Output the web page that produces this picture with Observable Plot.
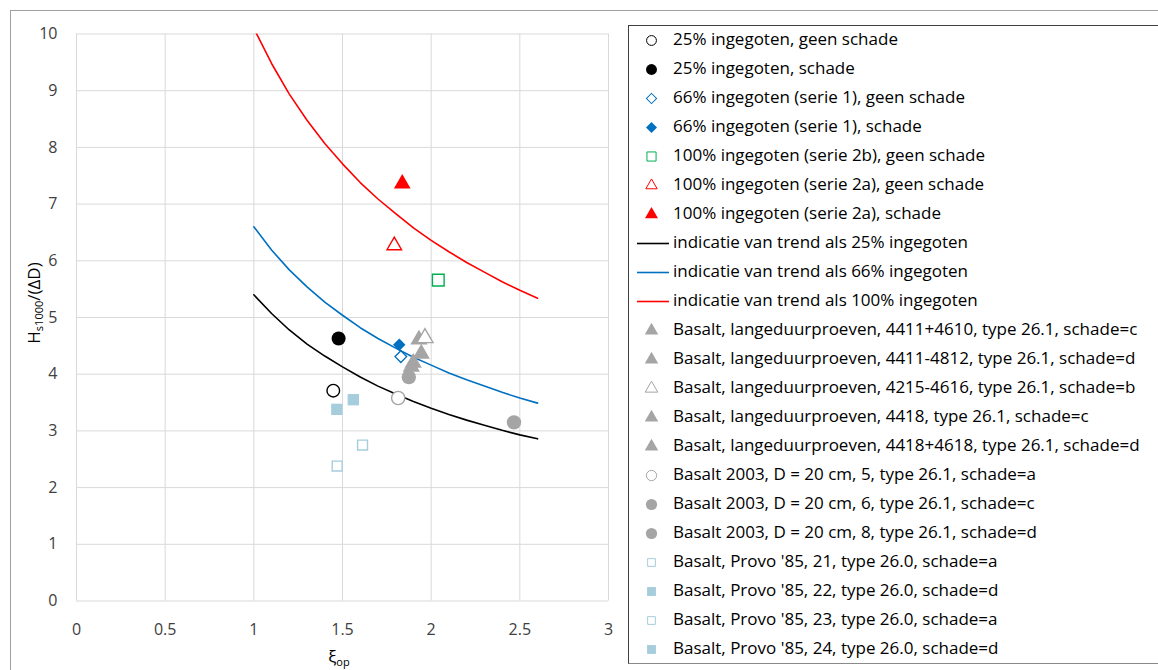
<!DOCTYPE html>
<html>
<head>
<meta charset="utf-8">
<script src="https://cdn.jsdelivr.net/npm/d3@7"></script>
<script src="https://cdn.jsdelivr.net/npm/@observablehq/plot@0.6"></script>
<style>
  html, body { margin: 0; padding: 0; background: #fff; }
  body { width: 1158px; height: 670px; position: relative; overflow: hidden; font-family: "Open Sans", "Liberation Sans", sans-serif; }
  #frame { position: absolute; left: 10px; top: 10px; width: 1200px; height: 700px; border: 1px solid #a0a0a0; box-sizing: border-box; }
  #chart { position: absolute; left: 0; top: 0; }
  #ylab { position: absolute; left: 33px; top: 303px; transform: translate(-50%, -50%) rotate(-90deg); font-size: 17px; color: #000; white-space: nowrap; }
  #xlab { position: absolute; left: 339px; top: 656px; transform: translate(-50%, -50%); font-size: 17px; color: #000; white-space: nowrap; }
  sub { font-size: 11px; vertical-align: -3px; line-height: 0; }
  #legend { position: absolute; left: 628px; top: 25px; width: 560px; height: 639px; border: 1px solid #404040; border-bottom-color: #8a8a8a; box-sizing: border-box; }
  .item { position: absolute; left: 0; height: 29px; font-size: 17px; color: #000; white-space: nowrap; }
  .item svg { position: absolute; left: 0; top: 0; }
  .item span { position: absolute; left: 44px; top: 50%; transform: translateY(-52%); }
</style>
</head>
<body>
<div id="frame"></div>
<div id="chart"></div>
<div id="ylab">H<sub>s1000</sub>/(ΔD)</div>
<div id="xlab">ξ<sub>op</sub></div>
<div id="legend"></div>
<script>
// ---- tick values ----
const xTicks = [0, 0.5, 1, 1.5, 2, 2.5, 3];
const yTicks = [0, 1, 2, 3, 4, 5, 6, 7, 8, 9, 10];

// ---- point series [xi_op, Hs/(ΔD)] ----
const p25Geen = [[1.448, 3.71]];
const p25Schade = [[1.478, 4.63]];
const p66Geen = [[1.829, 4.31]];
const p66Schade = [[1.820, 4.52]];
const p100bGeen = [[2.040, 5.66]];
const p100aGeen = [[1.792, 6.27]];
const p100aSchade = [[1.837, 7.36]];
const lang4411_4610 = [[1.931, 4.61]];
const lang4411_4812 = [[1.944, 4.36]];
const lang4215_4616 = [[1.965, 4.64]];
const lang4418 = [[1.899, 4.20]];
const lang4418_4618 = [[1.888, 4.13]];
const b2003_5 = [[1.814, 3.58]];
const b2003_6 = [[1.874, 3.95]];
const b2003_8 = [[2.467, 3.15]];
const provo21 = [[1.470, 2.38]];
const provo22 = [[1.468, 3.38]];
const provo23 = [[1.613, 2.75]];
const provo24 = [[1.561, 3.55]];

// ---- trend lines ----
const trendX = [1.0, 1.1, 1.2, 1.3, 1.4, 1.5, 1.6, 1.7, 1.8, 1.9, 2.0, 2.1, 2.2, 2.3, 2.4, 2.5, 2.6];
const trend25 = [5.40, 5.07, 4.78, 4.53, 4.32, 4.13, 3.95, 3.79, 3.65, 3.52, 3.40, 3.29, 3.19, 3.10, 3.01, 2.93, 2.86];
const trend66 = [6.60, 6.19, 5.84, 5.54, 5.27, 5.04, 4.82, 4.63, 4.46, 4.30, 4.16, 4.02, 3.90, 3.79, 3.68, 3.58, 3.49];
const trend100 = [10.10, 9.48, 8.94, 8.48, 8.07, 7.71, 7.38, 7.09, 6.83, 6.58, 6.36, 6.16, 5.97, 5.80, 5.63, 5.48, 5.34];

// ---- legend labels ----
const labels = [
  "25% ingegoten, geen schade",
  "25% ingegoten, schade",
  "66% ingegoten (serie 1), geen schade",
  "66% ingegoten (serie 1), schade",
  "100% ingegoten (serie 2b), geen schade",
  "100% ingegoten (serie 2a), geen schade",
  "100% ingegoten (serie 2a), schade",
  "indicatie van trend als 25% ingegoten",
  "indicatie van trend als 66% ingegoten",
  "indicatie van trend als 100% ingegoten",
  "Basalt, langeduurproeven, 4411+4610, type 26.1, schade=c",
  "Basalt, langeduurproeven, 4411-4812, type 26.1, schade=d",
  "Basalt, langeduurproeven, 4215-4616, type 26.1, schade=b",
  "Basalt, langeduurproeven, 4418, type 26.1, schade=c",
  "Basalt, langeduurproeven, 4418+4618, type 26.1, schade=d",
  "Basalt 2003, D = 20 cm, 5, type 26.1, schade=a",
  "Basalt 2003, D = 20 cm, 6, type 26.1, schade=c",
  "Basalt 2003, D = 20 cm, 8, type 26.1, schade=d",
  "Basalt, Provo '85, 21, type 26.0, schade=a",
  "Basalt, Provo '85, 22, type 26.0, schade=d",
  "Basalt, Provo '85, 23, type 26.0, schade=a",
  "Basalt, Provo '85, 24, type 26.0, schade=d"
];

// ---- styles ----
const BLACK = "#000000", BLUE = "#0070c0", GREEN = "#00b050", RED = "#ff0000", GRAY = "#a5a5a5", LBLUE = "#a5cddc";

const lines = [
  {label: labels[7], values: trend25, color: BLACK},
  {label: labels[8], values: trend66, color: BLUE},
  {label: labels[9], values: trend100, color: RED}
];

const series = [
  {label: labels[0], data: p25Geen, symbol: "circle", fill: "white", stroke: BLACK, r: 6.3},
  {label: labels[1], data: p25Schade, symbol: "circle", fill: BLACK, stroke: "none", r: 7},
  {label: labels[2], data: p66Geen, symbol: "diamond2", fill: "white", stroke: BLUE, r: 5.2},
  {label: labels[3], data: p66Schade, symbol: "diamond2", fill: BLUE, stroke: "none", r: 5.6},
  {label: labels[4], data: p100bGeen, symbol: "square", fill: "white", stroke: GREEN, r: 6.6},
  {label: labels[5], data: p100aGeen, symbol: "triangle", fill: "white", stroke: RED, r: 5.4},
  {label: labels[6], data: p100aSchade, symbol: "triangle", fill: RED, stroke: "none", r: 6.2},
  {label: labels[10], data: lang4411_4610, symbol: "triangle", fill: GRAY, stroke: "none", r: 6.4},
  {label: labels[11], data: lang4411_4812, symbol: "triangle", fill: GRAY, stroke: "none", r: 6.4},
  {label: labels[12], data: lang4215_4616, symbol: "triangle", fill: "white", stroke: GRAY, r: 6.0},
  {label: labels[13], data: lang4418, symbol: "triangle", fill: GRAY, stroke: "none", r: 6.4},
  {label: labels[14], data: lang4418_4618, symbol: "triangle", fill: GRAY, stroke: "none", r: 6.4},
  {label: labels[15], data: b2003_5, symbol: "circle", fill: "white", stroke: GRAY, r: 6.6},
  {label: labels[16], data: b2003_6, symbol: "circle", fill: GRAY, stroke: "none", r: 7.2},
  {label: labels[17], data: b2003_8, symbol: "circle", fill: GRAY, stroke: "none", r: 7.2},
  {label: labels[18], data: provo21, symbol: "square", fill: "white", stroke: LBLUE, r: 5.6},
  {label: labels[19], data: provo22, symbol: "square", fill: LBLUE, stroke: "none", r: 6.4},
  {label: labels[20], data: provo23, symbol: "square", fill: "white", stroke: LBLUE, r: 5.6},
  {label: labels[21], data: provo24, symbol: "square", fill: LBLUE, stroke: "none", r: 6.4}
];

// draw order: lines first, then markers in the reference's series order
const marks = [
  Plot.gridX(xTicks, {stroke: "#d9d9d9", strokeOpacity: 1, strokeWidth: 1}),
  Plot.gridY(yTicks, {stroke: "#d9d9d9", strokeOpacity: 1, strokeWidth: 1}),
  Plot.axisX(xTicks, {tickSize: 0, tickPadding: 23, tickFormat: d => String(d), fontSize: 16, fill: "#404040", label: null}),
  Plot.axisY(yTicks, {tickSize: 0, tickPadding: 19, tickFormat: d => String(d), fontSize: 16, fill: "#404040", label: null}),
  ...lines.map(l => Plot.line(trendX.map((x, i) => [x, l.values[i]]), {x: d => d[0], y: d => d[1], stroke: l.color, strokeWidth: 1.6, clip: true})),
  ...series.map(s => Plot.dot(s.data, {x: d => d[0], y: d => d[1], symbol: () => s.symbol, fill: s.fill, stroke: s.stroke, strokeWidth: 1.4, r: s.r}))
];

const chart = Plot.plot({
  width: 620,
  height: 670,
  marginLeft: 76,
  marginRight: 12,
  marginTop: 33.5,
  marginBottom: 69.5,
  style: {fontFamily: "'Open Sans', 'Liberation Sans', sans-serif", background: "transparent", overflow: "visible"},
  x: {domain: [0, 3]},
  y: {domain: [0, 10]},
  symbol: {type: "identity"},
  marks
});
document.getElementById("chart").appendChild(chart);

// ---- legend ----
const legend = document.getElementById("legend");
const symFn = {circle: d3.symbolCircle, diamond2: d3.symbolSquare, square: d3.symbolSquare, triangle: d3.symbolTriangle};
const order = [
  ...series.slice(0, 7).map(s => ({type: "dot", s})),
  ...lines.map(l => ({type: "line", l})),
  ...series.slice(7).map(s => ({type: "dot", s}))
];
order.forEach((o, i) => {
  const div = document.createElement("div");
  div.className = "item";
  div.style.top = (-1.5 + i * 29) + "px";
  const svg = d3.create("svg").attr("width", 44).attr("height", 29);
  if (o.type === "line") {
    svg.append("line").attr("x1", 8).attr("x2", 40).attr("y1", 15.5).attr("y2", 15.5)
      .attr("stroke", o.l.color).attr("stroke-width", 1.6);
  } else {
    const s = o.s;
    const rr = s.r * 0.78;
    const p = d3.symbol(symFn[s.symbol], Math.PI * rr * rr)();
    svg.append("path").attr("d", p)
      .attr("transform", `translate(22.5,15.5)` + (s.symbol === "diamond2" ? " rotate(45)" : ""))
      .attr("fill", s.fill).attr("stroke", s.stroke === "none" ? null : s.stroke).attr("stroke-width", 1);
  }
  div.appendChild(svg.node());
  const span = document.createElement("span");
  span.textContent = o.type === "line" ? o.l.label : o.s.label;
  div.appendChild(span);
  legend.appendChild(div);
});
</script>
</body>
</html>
